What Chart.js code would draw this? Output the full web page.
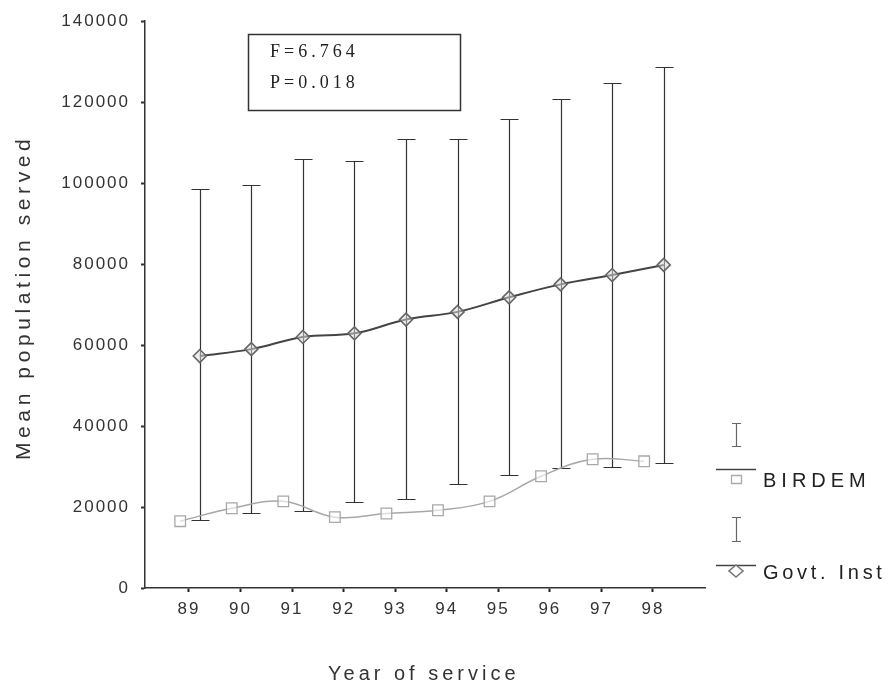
<!DOCTYPE html>
<html>
<head>
<meta charset="utf-8">
<script src="https://cdn.jsdelivr.net/npm/chart.js@4"></script>
<style>
  html, body { margin: 0; padding: 0; background: #fff; }
  #wrap { width: 889px; height: 689px; }
</style>
</head>
<body>
<div id="wrap"><canvas id="c" width="889" height="689"></canvas></div>
<script>
// ---- data ----
const years = [89, 90, 91, 92, 93, 94, 95, 96, 97, 98];
const birdemMean = [16500, 19700, 21400, 17500, 18400, 19200, 21400, 27600, 31800, 31300];
const govtMean = [57300, 59000, 62000, 62900, 66300, 68200, 71800, 75000, 77300, 79800];
const govtUpper = [98500, 99500, 106000, 105500, 110800, 110800, 115900, 120900, 124700, 128800];
const govtLower = [16800, 18500, 19000, 21200, 22000, 25600, 27800, 29600, 29800, 30800];
const yTicks = [0, 20000, 40000, 60000, 80000, 100000, 120000, 140000];
const statLines = ['F=6.764', 'P=0.018'];
const seriesNames = ['BIRDEM', 'Govt. Inst'];
const xTitle = 'Year of service';
const yTitle = 'Mean population served';

// ---- style constants ----
const BIRDEM_SHIFT = -0.17;
const GOVT_SHIFT = 0.21;
const W = 889, H = 689;
const AREA = { left: 145, right: 705, top: 20, bottom: 588 };
const SANS = '"Liberation Sans", Arial, sans-serif';

const birdemPts = years.map((y, i) => ({ x: y + BIRDEM_SHIFT, y: birdemMean[i] }));
const govtPts = years.map((y, i) => ({ x: y + GOVT_SHIFT, y: govtMean[i] }));

const spacing = {
  id: 'spacing',
  beforeDraw(chart) { chart.ctx.letterSpacing = '2px'; },
  afterDraw(chart) { chart.ctx.letterSpacing = '0px'; }
};

const errorBars = {
  id: 'errorBars',
  beforeDatasetsDraw(chart) {
    const { ctx, scales: { x, y } } = chart;
    ctx.save();
    ctx.strokeStyle = '#333';
    ctx.lineWidth = 1.2;
    const cap = 9;
    years.forEach((yr, i) => {
      const px = Math.round(x.getPixelForValue(yr + GOVT_SHIFT)) + 0.5;
      const top = Math.round(y.getPixelForValue(govtUpper[i])) + 0.5;
      const bot = Math.round(y.getPixelForValue(govtLower[i])) + 0.5;
      ctx.beginPath();
      ctx.moveTo(px, top); ctx.lineTo(px, bot);
      ctx.moveTo(px - cap, top); ctx.lineTo(px + cap, top);
      ctx.moveTo(px - cap, bot); ctx.lineTo(px + cap, bot);
      ctx.stroke();
    });
    ctx.restore();
  }
};

const decorations = {
  id: 'decorations',
  afterDraw(chart) {
    const { ctx } = chart;
    ctx.save();
    // axis titles
    ctx.fillStyle = '#333';
    ctx.font = '20px ' + SANS;
    ctx.letterSpacing = '4px';
    ctx.textAlign = 'left';
    ctx.textBaseline = 'alphabetic';
    ctx.fillText(xTitle, 328, 680);

    ctx.save();
    ctx.font = '21px ' + SANS;
    ctx.letterSpacing = '4.6px';
    ctx.translate(30, 460);
    ctx.rotate(-Math.PI / 2);
    ctx.fillText(yTitle, 0, 0);
    ctx.restore();

    // stats box
    ctx.strokeStyle = '#333';
    ctx.lineWidth = 1.5;
    ctx.strokeRect(248.5, 34.5, 212, 76);
    ctx.fillStyle = '#222';
    ctx.font = '18px "Liberation Serif", "Times New Roman", serif';
    ctx.letterSpacing = '4px';
    ctx.textBaseline = 'alphabetic';
    ctx.fillText(statLines[0], 270, 57);
    ctx.fillText(statLines[1], 270, 88);

    // legend
    ctx.letterSpacing = '0px';
    const lx = 736;
    function ibar(cx, t, b, col) {
      ctx.strokeStyle = col; ctx.lineWidth = 1.2;
      ctx.beginPath();
      ctx.moveTo(cx + 0.5, t); ctx.lineTo(cx + 0.5, b);
      ctx.moveTo(cx - 4, t + 0.5); ctx.lineTo(cx + 5, t + 0.5);
      ctx.moveTo(cx - 4, b - 0.5); ctx.lineTo(cx + 5, b - 0.5);
      ctx.stroke();
    }
    ibar(lx, 423, 447, '#666');
    ibar(lx, 517, 542, '#666');
    ctx.strokeStyle = '#444'; ctx.lineWidth = 1.3;
    ctx.beginPath();
    ctx.moveTo(716, 469.5); ctx.lineTo(756, 469.5);
    ctx.moveTo(716, 565.5); ctx.lineTo(756, 565.5);
    ctx.stroke();
    // square
    ctx.strokeStyle = '#aaa'; ctx.lineWidth = 1.3; ctx.fillStyle = '#fff';
    ctx.beginPath(); ctx.rect(731.5, 475.5, 10, 8); ctx.fill(); ctx.stroke();
    // diamond
    ctx.strokeStyle = '#777'; ctx.lineWidth = 1.6;
    ctx.beginPath();
    ctx.moveTo(lx, 565); ctx.lineTo(lx + 7, 571); ctx.lineTo(lx, 577); ctx.lineTo(lx - 7, 571); ctx.closePath();
    ctx.fill(); ctx.stroke();
    ctx.fillStyle = '#222';
    ctx.font = '20px ' + SANS;
    ctx.textBaseline = 'alphabetic';
    ctx.letterSpacing = '5px';
    ctx.fillText(seriesNames[0], 763, 487);
    ctx.letterSpacing = '3.7px';
    ctx.fillText(seriesNames[1], 763, 579);
    ctx.restore();
  }
};

new Chart(document.getElementById('c'), {
  type: 'line',
  data: {
    datasets: [
      {
        label: seriesNames[0],
        data: birdemPts,
        borderColor: '#a8a8a8',
        borderWidth: 1.5,
        tension: 0.4,
        pointStyle: 'rect',
        pointRadius: 7.5,
        pointBorderColor: '#a8a8a8',
        pointBackgroundColor: 'rgba(255,255,255,0.6)',
        pointBorderWidth: 1.3,
        fill: false
      },
      {
        label: seriesNames[1],
        data: govtPts,
        borderColor: '#444',
        borderWidth: 2,
        tension: 0.4,
        pointStyle: 'rectRot',
        pointRadius: 6.5,
        pointBorderColor: '#666',
        pointBackgroundColor: 'rgba(220,220,220,0.5)',
        pointBorderWidth: 1.6,
        fill: false
      }
    ]
  },
  options: {
    responsive: false,
    animation: false,
    devicePixelRatio: 1,
    layout: { padding: { left: 0, right: W - AREA.right, top: AREA.top, bottom: 0 } },
    plugins: { legend: { display: false }, tooltip: { enabled: false } },
    scales: {
      x: {
        type: 'linear',
        min: 88.147,
        max: 99.01,
        afterBuildTicks(scale) { scale.ticks = years.map(v => ({ value: v })); },
        afterFit(scale) { scale.height = H - AREA.bottom; },
        ticks: {
          callback: v => String(v),
          color: '#333',
          font: { family: SANS, size: 17 },
          padding: 7,
          maxRotation: 0,
          autoSkip: false
        },
        grid: { drawOnChartArea: false, drawTicks: true, tickLength: 4, color: '#222', tickWidth: 2 },
        border: { display: true, color: '#333', width: 1.5 }
      },
      y: {
        min: 0,
        max: 140000,
        afterBuildTicks(scale) { scale.ticks = yTicks.map(v => ({ value: v })); },
        afterFit(scale) { scale.width = AREA.left; },
        ticks: {
          callback: v => String(v),
          color: '#333',
          font: { family: SANS, size: 17 },
          padding: 11
        },
        grid: { drawOnChartArea: false, drawTicks: true, tickLength: 4, color: '#333', tickWidth: 2 },
        border: { display: true, color: '#333', width: 1.5 }
      }
    }
  },
  plugins: [spacing, errorBars, decorations]
});
</script>
</body>
</html>
